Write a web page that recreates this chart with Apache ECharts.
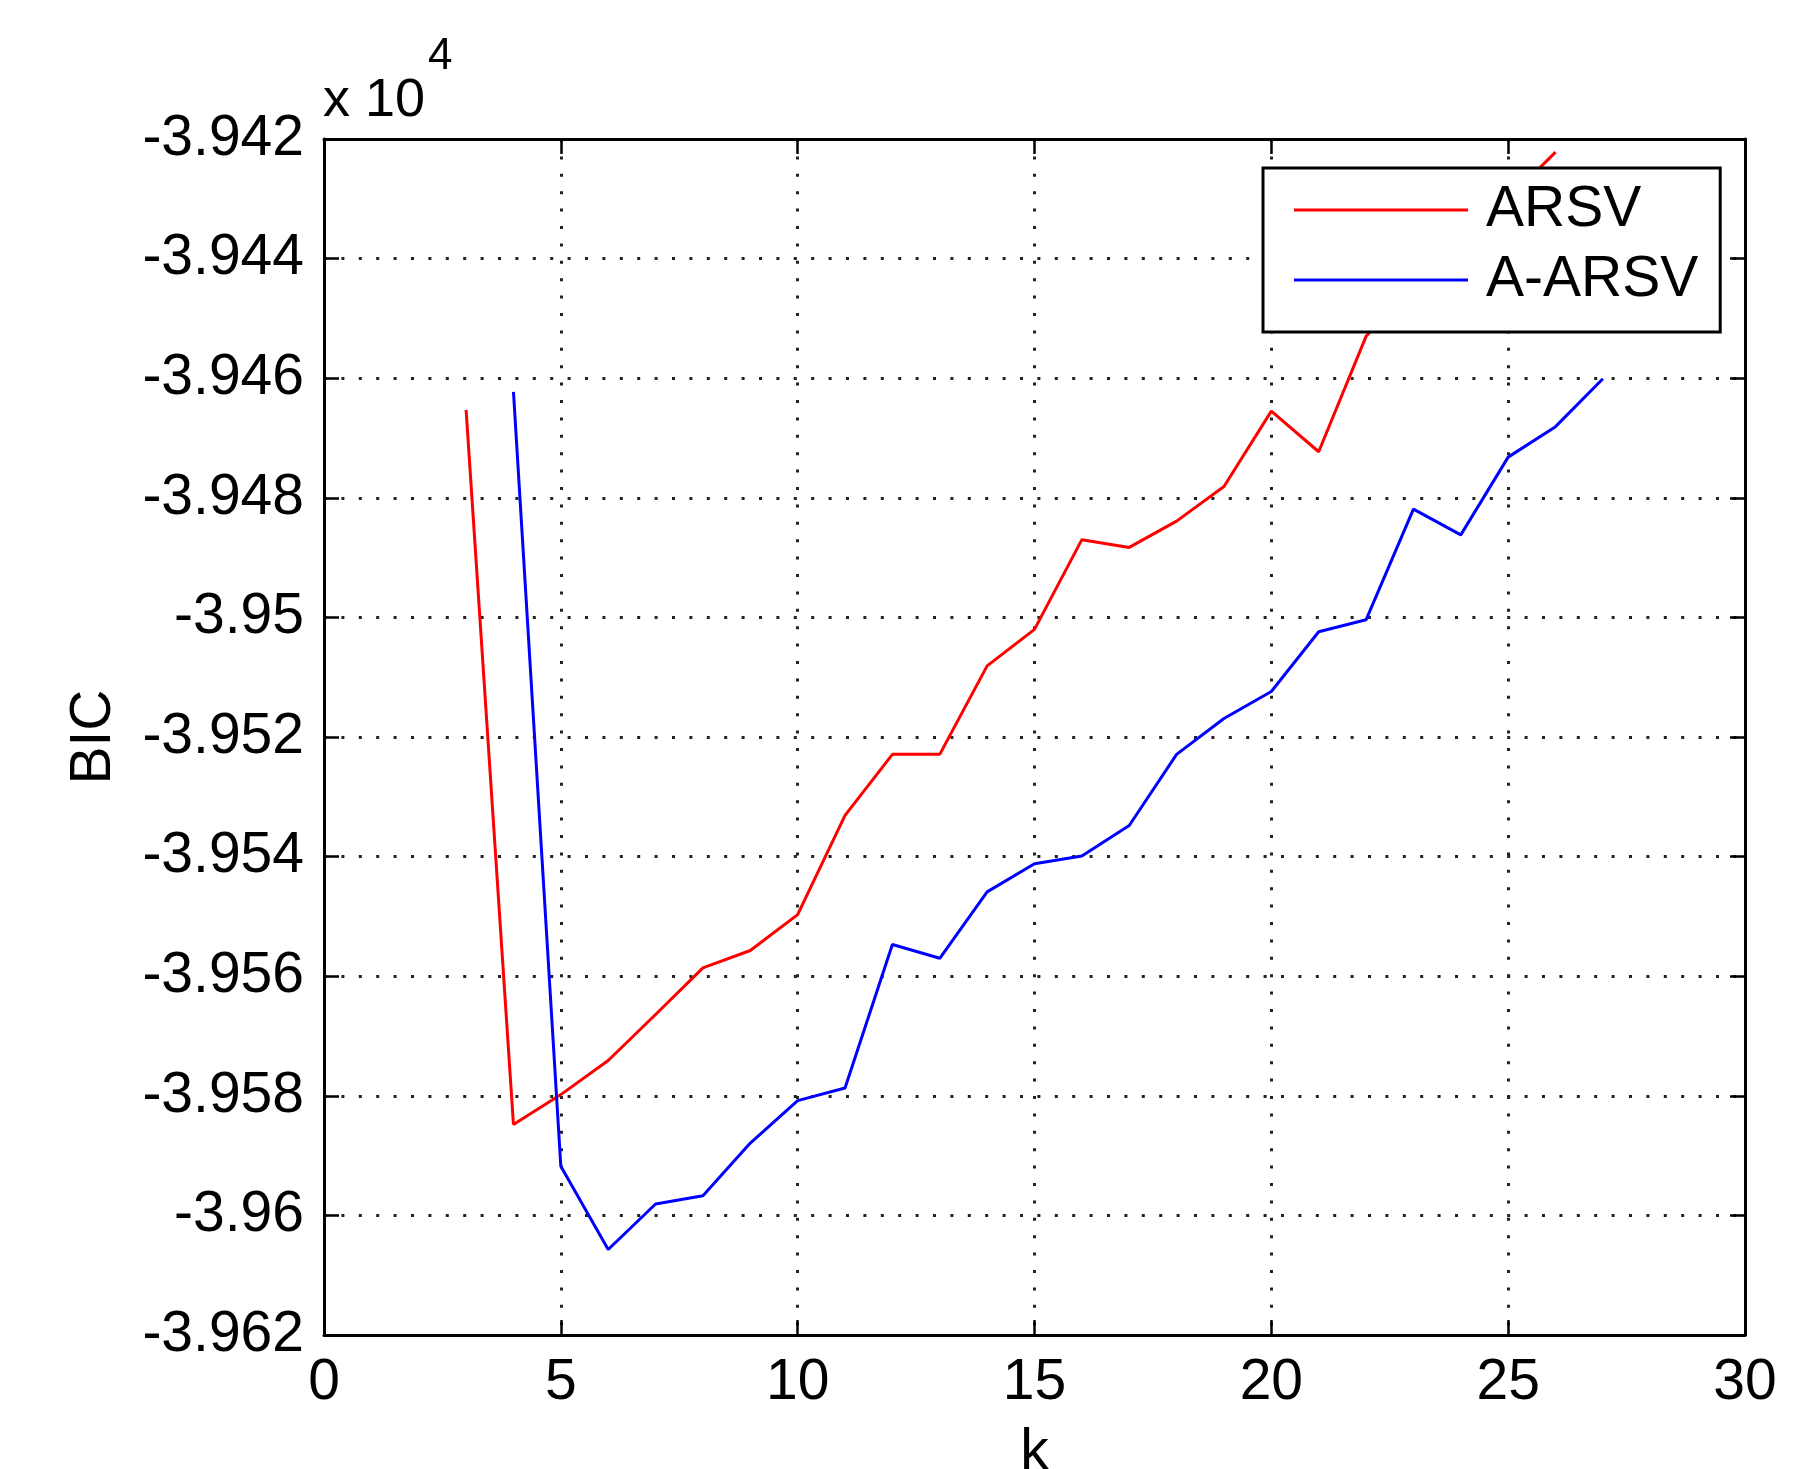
<!DOCTYPE html>
<html>
<head>
<meta charset="utf-8">
<script src="https://cdn.jsdelivr.net/npm/echarts@6/dist/echarts.min.js"></script>
<style>
html,body{margin:0;padding:0;background:#fff;}
#chart{width:1820px;height:1469px;}
</style>
</head>
<body>
<div id="chart"></div>
<script>
// k values and BIC values (actual units; axis shows ×10^4)
const kArsv = [3,4,5,6,7,8,9,10,11,12,13,14,15,16,17,18,19,20,21,22,23,24,25,26];
const bicArsv = [-39465.3,-39584.8,-39579.8,-39574.1,-39566.4,-39558.6,-39555.7,-39549.7,-39533.1,-39522.9,-39522.9,-39508.1,-39502.0,-39487.0,-39488.3,-39483.9,-39478.1,-39465.5,-39472.3,-39453.0,-39444.5,-39439.0,-39430.1,-39422.2];
const kAArsv = [4,5,6,7,8,9,10,11,12,13,14,15,16,17,18,19,20,21,22,23,24,25,26,27];
const bicAArsv = [-39462.3,-39591.8,-39605.7,-39598.1,-39596.7,-39587.9,-39580.8,-39578.7,-39554.7,-39557.0,-39545.9,-39541.2,-39539.9,-39534.8,-39522.9,-39516.9,-39512.4,-39502.4,-39500.4,-39481.9,-39486.2,-39473.2,-39468.1,-39460.1];
const seriesNames = ['ARSV','A-ARSV'];
const xTicks = [0,5,10,15,20,25,30];
const yTicks = [-39620,-39600,-39580,-39560,-39540,-39520,-39500,-39480,-39460,-39440,-39420];

const FONT = '"Liberation Sans", Arial, sans-serif';
const FS = 57;

function pairs(xs, ys){ return xs.map((x,i)=>[x, ys[i]]); }
function fmtY(v){ return String(parseFloat((v/1e4).toFixed(4))); }

const chart = echarts.init(document.getElementById('chart'), null, {renderer:'canvas'});
const gridDots = {show:true, lineStyle:{color:'#222', width:3, type:[3,14.4]}};
const axLine = {show:true, onZero:false, lineStyle:{color:'#000', width:3}};
const axTick = {show:true, inside:true, length:15, lineStyle:{color:'#000', width:2.5}};

chart.setOption({
  animation:false,
  backgroundColor:'#fff',
  grid:{left:324, top:139, right:75, bottom:134, containLabel:false, outerBoundsMode:'none'},
  xAxis:[
    {type:'value', min:xTicks[0], max:xTicks[xTicks.length-1], interval:5, position:'bottom',
     axisLine:axLine, axisTick:axTick, splitLine:gridDots,
     axisLabel:{color:'#000', fontFamily:FONT, fontSize:FS, margin:20},
     name:'k', nameLocation:'middle', nameGap:90,
     nameTextStyle:{color:'#000', fontFamily:FONT, fontSize:FS}},
    {type:'value', min:xTicks[0], max:xTicks[xTicks.length-1], interval:5, position:'top',
     axisLine:axLine, axisTick:axTick, splitLine:{show:false}, axisLabel:{show:false}}
  ],
  yAxis:[
    {type:'value', min:yTicks[0], max:yTicks[yTicks.length-1], interval:20, position:'left',
     axisLine:axLine, axisTick:axTick, splitLine:gridDots,
     axisLabel:{color:'#000', fontFamily:FONT, fontSize:FS, margin:20, formatter:fmtY},
     name:'BIC', nameLocation:'middle', nameGap:201, nameRotate:90,
     nameTextStyle:{color:'#000', fontFamily:FONT, fontSize:FS}},
    {type:'value', min:yTicks[0], max:yTicks[yTicks.length-1], interval:20, position:'right',
     axisLine:axLine, axisTick:axTick, splitLine:{show:false}, axisLabel:{show:false}}
  ],
  legend:{
    left:1263, top:168, orient:'vertical',
    backgroundColor:'#fff', borderColor:'#000', borderWidth:3,
    padding:[12,22,22,31], itemGap:10,
    itemWidth:174, itemHeight:3, icon:'rect',
    textStyle:{color:'#000', fontFamily:FONT, fontSize:FS, lineHeight:60, padding:[0,0,0,13]},
    data:seriesNames
  },
  series:[
    {name:seriesNames[0], type:'line', data:pairs(kArsv,bicArsv), showSymbol:false, symbol:'none',
     lineStyle:{color:'#ff0000', width:3}, itemStyle:{color:'#ff0000'}, z:3},
    {name:seriesNames[1], type:'line', data:pairs(kAArsv,bicAArsv), showSymbol:false, symbol:'none',
     lineStyle:{color:'#0000ff', width:3}, itemStyle:{color:'#0000ff'}, z:3}
  ],
  graphic:[
    {type:'text', left:323, top:74, style:{text:'x 10', fontFamily:FONT, fontSize:54, fill:'#000'}},
    {type:'text', left:428, top:35, style:{text:'4', fontFamily:FONT, fontSize:44, fill:'#000'}}
  ]
});
</script>
</body>
</html>
